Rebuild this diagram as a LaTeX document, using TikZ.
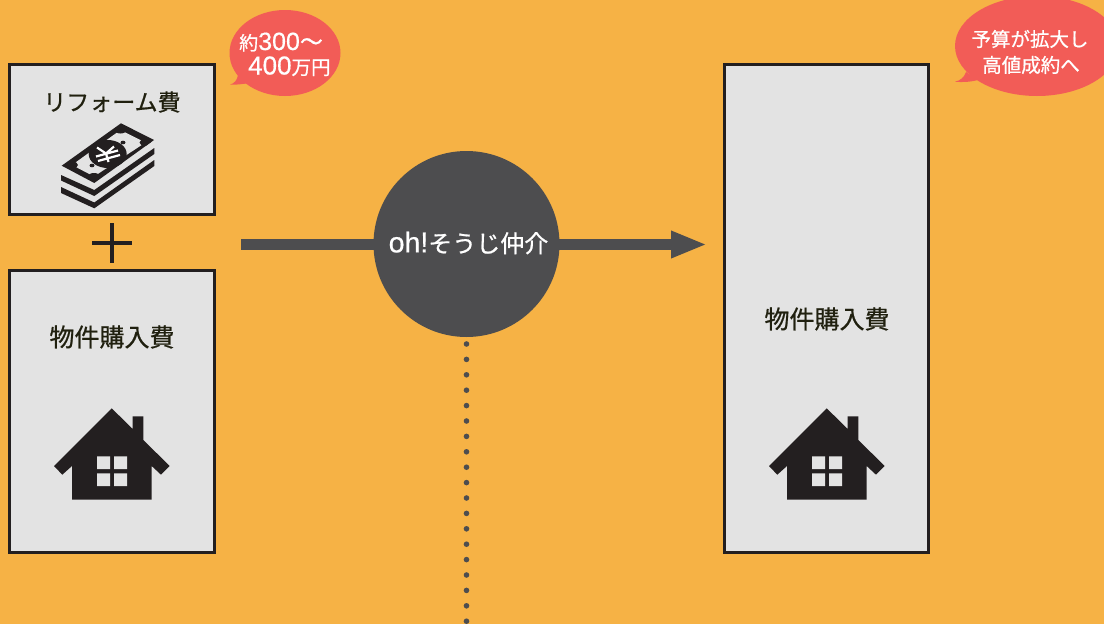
\documentclass[tikz,border=0pt]{standalone}
\usepackage{fontspec}
\setmainfont{Liberation Sans}[FakeBold=0.5]
\newfontfamily\cjk{Noto Sans CJK JP}[FakeBold=0.7]
\usetikzlibrary{arrows.meta,shapes.geometric}
\definecolor{bgor}{HTML}{F6B245}
\definecolor{boxg}{HTML}{E3E3E3}
\definecolor{ink}{HTML}{231F20}
\definecolor{slate}{HTML}{4D4D4F}
\definecolor{bub}{HTML}{F25C57}
\definecolor{lab}{HTML}{20200F}
\tikzset{
 panel/.style={draw=ink,fill=boxg,line width=3pt,minimum width=204.5pt,inner sep=0pt,rectangle},
 boxlabel/.style={inner sep=0pt,text=lab,font=\cjk\fontsize{24}{24}\selectfont},
 bubbletext/.style={inner sep=0pt,text=white,font=\fontsize{19.5}{19.5}\selectfont\cjk},
 bubble/.style={ellipse,fill=bub,inner sep=0pt},
 flow/.style={draw=slate,line width=11pt},
 dotmark/.style={circle,fill=slate,minimum size=5.6pt,inner sep=0pt}
}
\newcommand{\houseicon}[1]{%
 \begin{scope}[shift={(#1,0)}]
 \fill[ink] (111.7,408.3)--(132.7,429)--(132.7,416.3)--(143.3,416.3)--(143.3,440)--(169.7,466)--(161,474.7)--(151.7,466)--(151.7,499.5)--(72,499.5)--(72,466)--(62.3,474.7)--(54,466)--cycle;
 \fill[boxg] (97,456.3) rectangle (110,469) (114,456.3) rectangle (127,469) (97,473.3) rectangle (110,486) (114,473.3) rectangle (127,486);
 \end{scope}}
\begin{document}
\begin{tikzpicture}[x=1pt,y=-1pt]
\clip (0,0) rectangle (1104,624);
\fill[bgor] (0,0) rectangle (1104,624);
% panels
\node[panel,minimum height=150pt] (reform) at (112,139.5) {};
\node[panel,minimum height=282pt] (buyA) at (112,411.5) {};
\node[panel,minimum height=488pt] (buyB) at (826.7,308.5) {};
\node[boxlabel,font=\cjk\fontsize{23}{23}\selectfont] (t1) at (112,102) {リフォーム費};
\node[boxlabel,font=\cjk\fontsize{25}{25}\selectfont] (t2) at (112,337) {物件購入費};
\node[boxlabel,font=\cjk\fontsize{25}{25}\selectfont] (t3) at (827,319) {物件購入費};
% plus
\draw[ink,line width=4pt] (92,243)--(132,243) (112,223)--(112,263);
% houses
\houseicon{0}
\houseicon{715}
% money
\begin{scope}
\fill[ink] (61,175)--(94.3,190)--(154.3,148)--(154.3,154)--(94.3,196)--(61,180.5)--cycle;
\fill[ink] (61,187)--(94.3,202.5)--(154.3,160)--(154.3,166)--(94.3,208.3)--(61,193)--cycle;
\fill[ink] (121,123.3)--(154,140)--(94.3,183)--(61.7,165.7)--cycle;
\fill[boxg] (120.5,130)--(145.5,142.5)--(94,176.5)--(72,165)--cycle;
\begin{scope}
\clip (121,123.3)--(154,140)--(94.3,183)--(61.7,165.7)--cycle;
\fill[ink] (120.5,130) circle[x radius=6pt,y radius=3.5pt];
\fill[ink] (145.5,142.5) circle[x radius=6pt,y radius=3.5pt];
\fill[ink] (94,176.5) circle[x radius=6pt,y radius=3.5pt];
\fill[ink] (72,165) circle[x radius=6pt,y radius=3.5pt];
\end{scope}
\fill[ink] (107.7,154) circle[x radius=19pt,y radius=14pt];
\fill[ink] (123,142.5) circle[x radius=2.5pt,y radius=1.8pt];
\fill[ink] (92,165.5) circle[x radius=2.5pt,y radius=1.8pt];
\draw[white,line width=2.2pt] (97,147.5)--(106,153.5)--(114,146.5) (106,153.5)--(108.5,162)
 (96,156.5)--(118,150.5) (98,161)--(120,155);
\end{scope}
% arrow and broker
\coordinate (src) at (241,244.5);
\coordinate (dst) at (707,244.5);
\node[circle,fill=slate,minimum size=186pt,inner sep=0pt] (broker) at (466.5,244) {};
\draw[flow,shorten >=-2pt] (src) -- (broker.west |- src);
\draw[flow,shorten <=-2pt,-{Triangle[length=36pt,width=25pt]}] (broker.east |- dst) -- (dst);
\node[inner sep=0pt,text=white] (brokerlabel) at (468.5,243) {\fontsize{28.5}{28.5}\selectfont oh!{\cjk\fontsize{24}{24}\selectfont そうじ仲介}};
% dots
\foreach \i in {0,...,18} {
 \node[dotmark] (dot\i) at (466.5,344+15.4*\i) {};
}
% left bubble
\fill[bub] (230,84.7) .. controls (235,83) and (237,80) .. (238,75) -- (250,83) .. controls (243,84) and (236,85) .. (230,84.7) -- cycle;
\node[bubble,minimum width=111pt,minimum height=86pt] (bubA) at (285,53) {};
\node[inner sep=0pt,text=white,anchor=base west] (bubA1) at (239,50) {{\cjk\fontsize{19}{19}\selectfont 約}\fontsize{25}{25}\selectfont 300{\cjk\fontsize{23}{23}\selectfont 〜}};
\node[inner sep=0pt,text=white,anchor=base west] (bubA2) at (248,74.5) {\fontsize{26}{26}\selectfont 400{\cjk\fontsize{19.5}{19.5}\selectfont 万円}};
% right bubble
\fill[bub] (955,81.7) .. controls (960,80.5) and (964,78) .. (966,72) -- (978,80) .. controls (970,82) and (962,82.5) .. (955,81.7) -- cycle;
\node[bubble,minimum width=164pt,minimum height=100pt] (bubB) at (1037,46) {};
\node[bubbletext] (bubB1) at (1030,39) {予算が拡大し};
\node[bubbletext] (bubB2) at (1031,65) {高値成約へ};
\end{tikzpicture}
\end{document}
